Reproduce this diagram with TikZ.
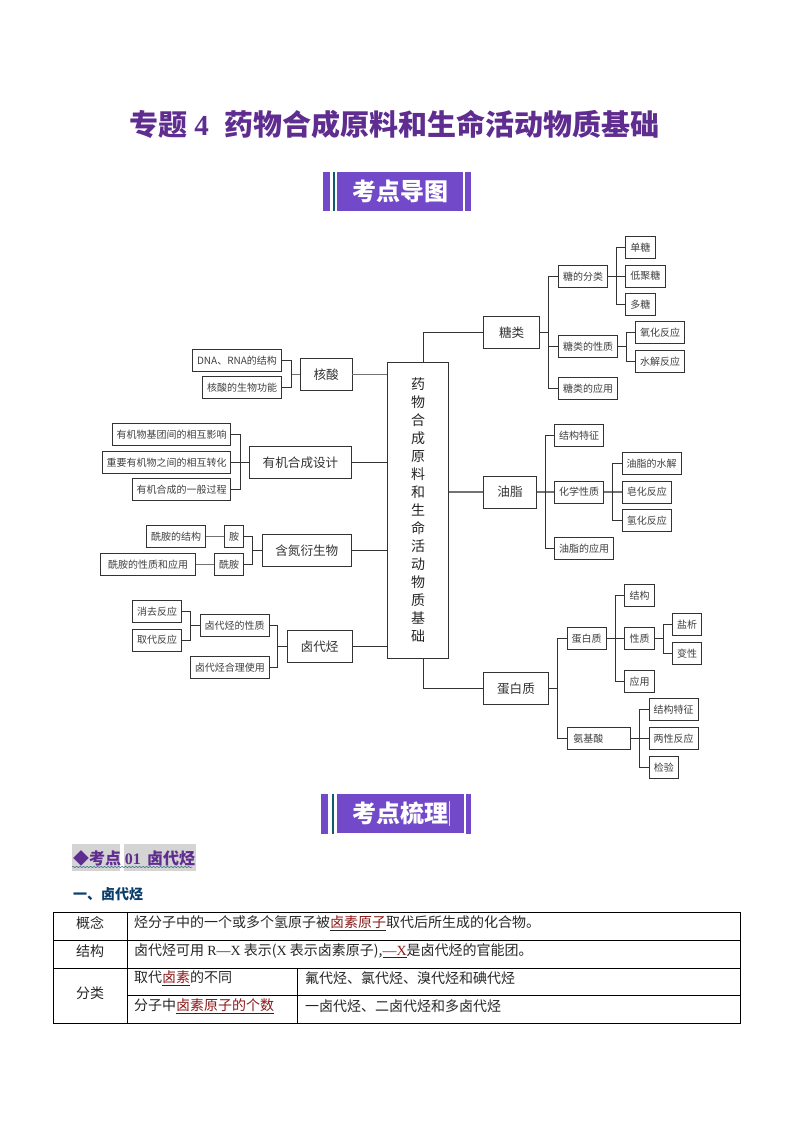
\documentclass[tikz,border=0pt]{standalone}
\usepackage{fontspec}
\setmainfont{Noto Sans CJK SC}
\newfontfamily\numfont{Liberation Serif}
\usepackage{xcolor}
\usetikzlibrary{decorations.pathmorphing}
\definecolor{titlepurple}{HTML}{5F2C8F}
\definecolor{bannerpurple}{HTML}{7249C9}
\definecolor{bannerteal}{HTML}{0E5A6E}
\definecolor{headblue}{HTML}{0B3D6B}
\definecolor{keyred}{HTML}{8B1A1A}
\newcommand{\keyword}[1]{\underline{\textcolor{keyred}{#1}}}

\begin{document}
\begin{tikzpicture}[x=1pt, y=-1pt]
\tikzset{
leaf/.style     = {draw=black!80, shape=rectangle, fill=white, text=black!75, line width=0.8pt, inner sep=0pt, minimum height=22pt, font=\fontsize{10}{12}\selectfont},
topic/.style    = {draw=black!80, shape=rectangle, fill=white, text=black!80, line width=0.8pt, inner sep=0pt, minimum height=32pt, font=\fontsize{12.6}{15}\selectfont},
coord/.style    = {coordinate},
wire/.style     = {draw=black!80, line width=0.8pt},
softwire/.style = {draw=black!55, line width=1.2pt},
strip/.style    = {fill=bannerpurple, draw=none},
banner/.style   = {shape=rectangle, fill=bannerpurple, text=white, inner sep=0pt, font=\fontsize{24}{26}\selectfont\bfseries},
cell/.style     = {anchor=west, inner sep=0pt, text=black!85, font=\fontsize{14}{16}\selectfont},
mid/.style      = {inner sep=0pt, text=black!85, font=\fontsize{14}{16}\selectfont},
}
    \useasboundingbox (0,0) rectangle (794,1123);

    % Title
    \node [text=titlepurple, inner sep=0pt, font=\fontsize{29}{32}\selectfont\bfseries] (title) at (394.5,124) {专题 {\numfont 4} \hspace{9pt}药物合成原料和生命活动物质基础};

    % Upper banner
    \fill [strip] (323,172) rectangle (330,211);
    \fill [bannerteal] (333,172) rectangle (335,211);
    \fill [strip] (465,172) rectangle (470.5,211);
    \node [banner, minimum width=126pt, minimum height=39pt] (map_banner) at (400,191.5) {考点导图};

    % Root node
    \node [draw=black!80, fill=white, text=black!85, line width=0.8pt, inner sep=0pt, minimum width=61.4pt, minimum height=296pt, align=center, font=\fontsize{14}{18}\selectfont] (root) at (418,510.3) {药\\物\\合\\成\\原\\料\\和\\生\\命\\活\\动\\物\\质\\基\\础};
    \node [coord] (root_top) at (423.3,362.3) {};
    \node [coord] (root_bottom) at (423.3,658.3) {};

    % Nucleic acid nodes
    \node [topic, minimum width=51.7pt]     (hesuan)        at (326.2,374.2) {核酸};
    \node [leaf, minimum width=89.4pt]      (hs_dna)        at (237,360.5)   {DNA、RNA的结构};
    \node [leaf, minimum width=79pt]        (hs_func)       at (242.2,387.8) {核酸的生物功能};
    \node [coord]                           (hs_bus)        at (291,374.2)   {};

    % Nucleic acid edges
    \draw [softwire] (hesuan)     -- (hesuan -| root.west);
    \draw [softwire] (hs_bus)     -- (hesuan);
    \draw [wire]     (hs_dna.east)  -| (hs_bus);
    \draw [wire]     (hs_func.east) -| (hs_bus);

    % Synthesis nodes
    \node [topic, minimum width=102.4pt]    (design)        at (300.5,462.3) {有机合成设计};
    \node [leaf, minimum width=118pt]       (ds_group)      at (171.7,434.8) {有机物基团间的相互影响};
    \node [leaf, minimum width=128pt]       (ds_convert)    at (166.7,462.3) {重要有机物之间的相互转化};
    \node [leaf, minimum width=98pt]        (ds_process)    at (181.7,489.8) {有机合成的一般过程};
    \node [coord]                           (ds_bus)        at (240,462.3)   {};

    % Synthesis edges
    \draw [wire] (design)         -- (design -| root.west);
    \draw [wire] (ds_convert)     -- (design);
    \draw [wire] (ds_group.east)  -| (ds_bus);
    \draw [wire] (ds_process.east)-| (ds_bus);

    % Nitrogen nodes
    \node [topic, minimum width=89.7pt]     (nitro)         at (306.8,550.5) {含氮衍生物};
    \node [leaf, minimum width=19.4pt]      (amine)         at (234,536.8)   {胺};
    \node [leaf, minimum width=29.4pt]      (amide)         at (229,564.5)   {酰胺};
    \node [leaf, minimum width=59pt]        (amide_struct)  at (176.2,536.8) {酰胺的结构};
    \node [leaf, minimum width=95.4pt]      (amide_prop)    at (148,564.5)   {酰胺的性质和应用};
    \node [coord]                           (nitro_bus)     at (252.7,550.5) {};

    % Nitrogen edges
    \draw [wire]     (nitro)        -- (nitro -| root.west);
    \draw [wire]     (nitro_bus)    -- (nitro);
    \draw [wire]     (amine.east)   -| (nitro_bus);
    \draw [wire]     (amide.east)   -| (nitro_bus);
    \draw [softwire] (amide_struct) -- (amine);
    \draw [softwire] (amide_prop)   -- (amide);

    % Haloalkane nodes
    \node [topic, minimum width=64.7pt]     (halo)          at (319.6,646.5) {卤代烃};
    \node [leaf, minimum width=68.7pt]      (halo_prop)     at (234.6,625.8) {卤代烃的性质};
    \node [leaf, minimum width=78.3pt]      (halo_use)      at (229.8,667.5) {卤代烃合理使用};
    \node [leaf, minimum width=49pt]        (halo_elim)     at (157.2,611.7) {消去反应};
    \node [leaf, minimum width=49pt]        (halo_subst)    at (157.2,640.1) {取代反应};
    \node [coord]                           (halo_bus)      at (277.7,646.5) {};
    \node [coord]                           (prop_bus)      at (190.7,625.8) {};

    % Haloalkane edges
    \draw [wire] (halo)            -- (halo -| root.west);
    \draw [wire] (halo_bus)        -- (halo);
    \draw [wire] (halo_prop.east)  -| (halo_bus);
    \draw [wire] (halo_use.east)   -| (halo_bus);
    \draw [wire] (prop_bus)        -- (halo_prop);
    \draw [wire] (halo_elim.east)  -| (prop_bus);
    \draw [wire] (halo_subst.east) -| (prop_bus);

    % Sugar nodes
    \node [topic, minimum width=56pt]       (sugar)         at (511.7,332.5) {糖类};
    \node [leaf, minimum width=49pt]        (sg_class)      at (583.2,276.2) {糖的分类};
    \node [leaf, minimum width=58.6pt]      (sg_prop)       at (588,346.5)   {糖类的性质};
    \node [leaf, minimum width=58.6pt]      (sg_use)        at (588,388.3)   {糖类的应用};
    \node [leaf, minimum width=29.3pt]      (sg_mono)       at (640.3,247.5) {单糖};
    \node [leaf, minimum width=39.3pt]      (sg_oligo)      at (645.3,276.2) {低聚糖};
    \node [leaf, minimum width=29.3pt]      (sg_poly)       at (640.3,304.8) {多糖};
    \node [leaf, minimum width=49.4pt]      (sg_ox)         at (660,332.3)   {氧化反应};
    \node [leaf, minimum width=49.4pt]      (sg_hyd)        at (660,361.3)   {水解反应};
    \node [coord]                           (sugar_bus)     at (548.7,332.5) {};
    \node [coord]                           (class_bus)     at (616.7,276.2) {};
    \node [coord]                           (sgprop_bus)    at (626.3,346.5) {};

    % Sugar edges
    \draw [wire] (root_top)   |- (sugar);
    \draw [wire] (sugar)      -- (sugar_bus);
    \draw [wire] (sugar_bus)  |- (sg_class);
    \draw [wire] (sugar_bus)  |- (sg_prop);
    \draw [wire] (sugar_bus)  |- (sg_use);
    \draw [wire] (sg_class)   -- (sg_oligo);
    \draw [wire] (class_bus)  |- (sg_mono);
    \draw [wire] (class_bus)  |- (sg_poly);
    \draw [wire] (sg_prop)    -- (sgprop_bus);
    \draw [wire] (sgprop_bus) |- (sg_ox);
    \draw [wire] (sgprop_bus) |- (sg_hyd);

    % Lipid nodes
    \node [topic, minimum width=52.6pt]     (lipid)         at (510,492)     {油脂};
    \node [leaf, minimum width=49pt]        (lp_struct)     at (579.2,435.8) {结构特征};
    \node [leaf, minimum width=49pt]        (lp_chem)       at (579.2,492)   {化学性质};
    \node [leaf, minimum width=58.6pt]      (lp_use)        at (584,548.3)   {油脂的应用};
    \node [leaf, minimum width=58.7pt]      (lp_hyd)        at (651.7,463.3) {油脂的水解};
    \node [leaf, minimum width=49pt]        (lp_soap)       at (646.8,492)   {皂化反应};
    \node [leaf, minimum width=49pt]        (lp_hydro)      at (646.8,520.8) {氢化反应};
    \node [coord]                           (lipid_bus)     at (545.3,492)   {};
    \node [coord]                           (chem_bus)      at (612.7,492)   {};

    % Lipid edges
    \draw [softwire] (lipid -| root.east) -- (lipid);
    \draw [softwire] (lipid)     -- (lp_chem);
    \draw [wire]     (lipid_bus) |- (lp_struct);
    \draw [wire]     (lipid_bus) |- (lp_use);
    \draw [softwire] (lp_chem)   -- (lp_soap);
    \draw [wire]     (chem_bus)  |- (lp_hyd);
    \draw [wire]     (chem_bus)  |- (lp_hydro);

    % Protein nodes
    \node [topic, minimum width=64.6pt]     (protein)       at (516,688.3)   {蛋白质};
    \node [leaf, minimum width=39.3pt]      (pt_sub)        at (586.7,638.5) {蛋白质};
    \node [leaf, minimum width=63.7pt, text width=51pt, align=left] (pt_amino) at (598.8,738.3) {氨基酸};
    \node [leaf, minimum width=29.6pt]      (pt_struct)     at (639.5,595.3) {结构};
    \node [leaf, minimum width=29.6pt]      (pt_prop)       at (639.5,638.5) {性质};
    \node [leaf, minimum width=29.6pt]      (pt_use)        at (639.5,681.8) {应用};
    \node [leaf, minimum width=29.4pt]      (pt_salt)       at (687,624.3)   {盐析};
    \node [leaf, minimum width=29.4pt]      (pt_denat)      at (687,653.2)   {变性};
    \node [leaf, minimum width=49pt]        (am_struct)     at (673.5,709.5) {结构特征};
    \node [leaf, minimum width=49pt]        (am_two)        at (673.5,738.3) {两性反应};
    \node [leaf, minimum width=29.7pt]      (am_test)       at (663.8,767.2) {检验};
    \node [coord]                           (protein_bus)   at (557.3,688.3) {};
    \node [coord]                           (sub_bus)       at (615,638.5)   {};
    \node [coord]                           (ptprop_bus)    at (663.3,638.5) {};
    \node [coord]                           (amino_bus)     at (639.7,738.3) {};

    % Protein edges
    \draw [wire] (root_bottom) |- (protein);
    \draw [wire] (protein)     -- (protein_bus);
    \draw [wire] (protein_bus) |- (pt_sub);
    \draw [wire] (protein_bus) |- (pt_amino);
    \draw [wire] (pt_sub)      -- (pt_prop);
    \draw [wire] (sub_bus)     |- (pt_struct);
    \draw [wire] (sub_bus)     |- (pt_use);
    \draw [wire] (pt_prop)     -- (ptprop_bus);
    \draw [wire] (ptprop_bus)  |- (pt_salt);
    \draw [wire] (ptprop_bus)  |- (pt_denat);
    \draw [wire] (pt_amino)    -- (am_two);
    \draw [wire] (amino_bus)   |- (am_struct);
    \draw [wire] (amino_bus)   |- (am_test);

    % Lower banner
    \fill [strip] (321,794) rectangle (328.3,833.5);
    \fill [bannerteal] (332,794) rectangle (334,833.5);
    \fill [strip] (466.3,794) rectangle (471.3,833.5);
    \node [banner, minimum width=127pt, minimum height=39.5pt] (list_banner) at (400.2,813.7) {考点梳理};
    \draw [white!75!bannerpurple, line width=0.7pt] (449,801) -- (449,826);

    % Heading
    \fill [black!17] (72,844.3) rectangle (120,871);
    \fill [black!17] (124,844.3) rectangle (196,871);
    \draw [bannerteal, line width=0.5pt, decorate, decoration={snake, amplitude=0.5pt, segment length=3.5pt}] (72,867) -- (192,867);
    \node [anchor=west, inner sep=0pt, text=titlepurple, font=\fontsize{16}{18}\selectfont\bfseries] (point_head) at (73,858) {◆考点 {\numfont 01} \,卤代烃};
    \node [anchor=west, inner sep=0pt, text=headblue, font=\fontsize{14}{16}\selectfont\bfseries] (sub_head) at (73,894) {一、卤代烃};

    % Table
    \draw [black, line width=0.8pt] (53.3,912.3) rectangle (740,1023.3);
    \draw [black, line width=0.8pt] (53.3,940) -- (740,940);
    \draw [black, line width=0.8pt] (53.3,968) -- (740,968);
    \draw [black, line width=0.8pt] (127.7,995.7) -- (740,995.7);
    \draw [black, line width=0.8pt] (127.7,912.3) -- (127.7,1023.3);
    \draw [black, line width=0.8pt] (297.3,968) -- (297.3,1023.3);

    % Table text
    \node [mid] (t_concept) at (90,923.5)  {概念};
    \node [mid] (t_struct)  at (90,951)    {结构};
    \node [mid] (t_class)   at (90,993)    {分类};
    \node [cell] (t_a) at (134,923.5) {烃分子中的一个或多个氢原子被\keyword{卤素原子}取代后所生成的化合物。};
    \node [cell] (t_b) at (134,951)   {卤代烃可用 {\numfont R—X} 表示({\numfont X} 表示卤素原子),\keyword{{\numfont —X}}是卤代烃的官能团。};
    \node [cell] (t_c) at (134,978.5) {取代\keyword{卤素}的不同};
    \node [cell] (t_d) at (134,1006.5){分子中\keyword{卤素原子的个数}};
    \node [cell] (t_e) at (305,978.5) {氟代烃、氯代烃、溴代烃和碘代烃};
    \node [cell] (t_f) at (305,1006.5){一卤代烃、二卤代烃和多卤代烃};
\end{tikzpicture}
\end{document}
